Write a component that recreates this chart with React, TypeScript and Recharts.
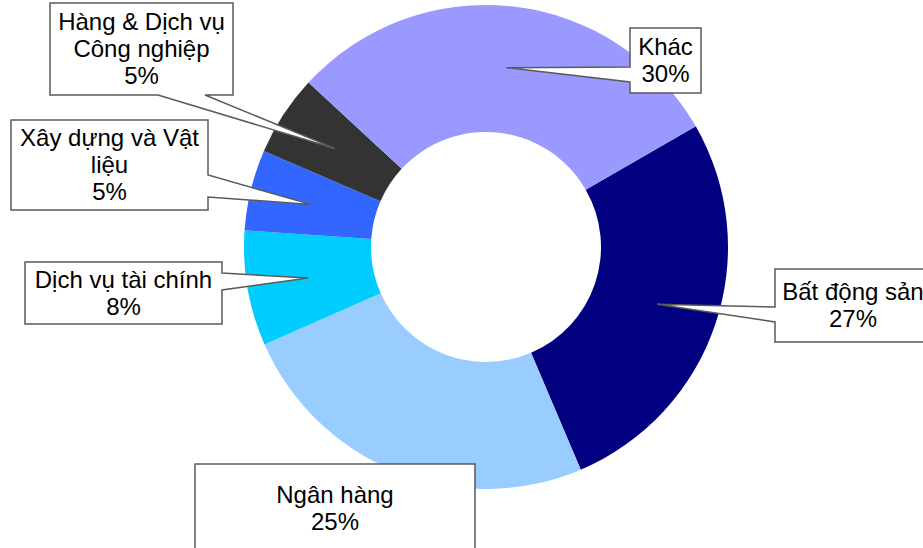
import React from 'react';
import { PieChart, Pie, Cell } from 'recharts';

const categories = ['Bất động sản', 'Ngân hàng', 'Dịch vụ tài chính', 'Xây dựng và Vật liệu', 'Hàng & Dịch vụ Công nghiệp', 'Khác'];
const shares = [26.9, 24.8, 7.7, 5.4, 5.4, 29.8];
const labelLines = [
  ['Bất động sản'],
  ['Ngân hàng'],
  ['Dịch vụ tài chính'],
  ['Xây dựng và Vật', 'liệu'],
  ['Hàng & Dịch vụ', 'Công nghiệp'],
  ['Khác'],
];
const colors = ['#000080', '#99CCFF', '#00CCFF', '#3366FF', '#333333', '#9999FF'];

// callout box layout (chart pixels) and pointer base along the box side
const calloutBoxes = [
  { x: 775, y: 269, w: 156, h: 73, side: 'left', b1: 38, b2: 53 },
  { x: 195, y: 464, w: 280, h: 89, side: 'none', b1: 0, b2: 0 },
  { x: 25, y: 262, w: 197, h: 62, side: 'right', b1: 11, b2: 28 },
  { x: 11, y: 120, w: 197, h: 90, side: 'right', b1: 55, b2: 77 },
  { x: 50, y: 3, w: 183, h: 92, side: 'bottom', b1: 108, b2: 155 },
  { x: 630, y: 28, w: 71, h: 65, side: 'left', b1: 39, b2: 54 },
];

const data = categories.map((name, i) => ({ name, value: shares[i] }));

const RADIAN = Math.PI / 180;
const FONT = 24;
const LINE = 27;

const renderLabel = (props: any) => {
  const { cx, cy, midAngle, innerRadius, outerRadius, index, percent } = props;
  const box = calloutBoxes[index];
  const lines = [...labelLines[index], `${Math.round(percent * 100)}%`];
  const r = (innerRadius + outerRadius) / 2 + 2;
  const tx = cx + r * Math.cos(-midAngle * RADIAN);
  const ty = cy + r * Math.sin(-midAngle * RADIAN);
  const { x, y, w, h, side, b1, b2 } = box;
  let d = '';
  if (side === 'left') {
    d = `M${x},${y} H${x + w} V${y + h} H${x} V${y + b2} L${tx},${ty} L${x},${y + b1} Z`;
  } else if (side === 'right') {
    d = `M${x},${y} H${x + w} V${y + b1} L${tx},${ty} L${x + w},${y + b2} V${y + h} H${x} Z`;
  } else if (side === 'bottom') {
    d = `M${x},${y} H${x + w} V${y + h} H${x + b2} L${tx},${ty} L${x + b1},${y + h} H${x} Z`;
  } else {
    d = `M${x},${y} H${x + w} V${y + h} H${x} Z`;
  }
  const centerX = x + w / 2;
  const firstBase = y + h / 2 - ((lines.length - 1) * LINE) / 2 + 8;
  return (
    <g key={`callout-${index}`}>
      <path d={d} fill="#ffffff" stroke="#5a5a5a" strokeWidth={1.5} strokeLinejoin="miter" />
      <text
        x={centerX}
        y={firstBase}
        textAnchor="middle"
        fill="#000000"
        fontSize={FONT}
        fontFamily="'Liberation Sans', Arial, sans-serif"
      >
        {lines.map((ln, i) => (
          <tspan key={i} x={centerX} y={firstBase + i * LINE}>
            {ln}
          </tspan>
        ))}
      </text>
    </g>
  );
};

export default function App() {
  return (
    <div style={{ position: 'absolute', left: 0, top: 0, width: 923, height: 548, background: '#ffffff' }}>
      <PieChart width={923} height={548} margin={{ top: 0, right: 0, bottom: 0, left: 0 }}>
        <Pie
          data={data}
          dataKey="value"
          nameKey="name"
          cx={486}
          cy={247}
          innerRadius={115}
          outerRadius={242}
          startAngle={29.9}
          endAngle={29.9 - 360}
          stroke="none"
          label={renderLabel}
          labelLine={false}
          isAnimationActive={false}
        >
          {data.map((d, i) => (
            <Cell key={d.name} fill={colors[i]} />
          ))}
        </Pie>
      </PieChart>
    </div>
  );
}
